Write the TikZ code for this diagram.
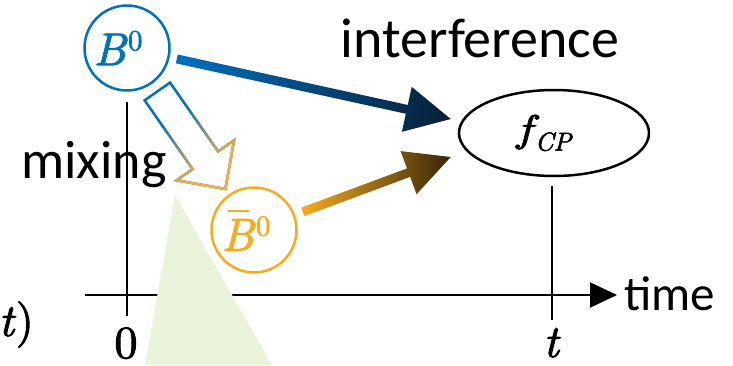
\RequirePackage{fix-cm}
\documentclass[tikz,border=0pt]{standalone}
\usepackage{fontspec}
\newfontfamily\calfont{Carlito}
\newfontfamily\mitf{lmroman10-italic.otf}[FakeBold=2]
\newfontfamily\mupf{lmroman10-regular.otf}[FakeBold=2]
\usetikzlibrary{calc,arrows.meta,shapes.geometric,fadings}
\definecolor{bblue}{RGB}{0,112,192}
\definecolor{bnavy}{RGB}{8,30,52}
\definecolor{borange}{RGB}{247,172,32}
\definecolor{bbrown}{RGB}{55,38,8}
\definecolor{mixorange}{RGB}{245,175,70}
\definecolor{tgreen}{RGB}{233,244,218}
\tikzfading[name=fadeR, left color=transparent!100, right color=transparent!0]
\tikzset{
  mathtxt/.style={font=\fontsize{46}{50}\selectfont},
  circ/.style={circle, draw, line width=2.5pt, minimum size=85pt, inner sep=0pt, mathtxt},
  lbl/.style={font=\calfont, inner sep=0pt},
  axisline/.style={line width=2pt, black},
}
\newcommand\supz{\raisebox{15pt}{\mupf\fontsize{29}{29}\selectfont 0}}
\begin{document}
\begin{tikzpicture}[x=1pt,y=1pt]
\useasboundingbox (0,0) rectangle (733,365);
% nodes
\node[circ, draw=bblue, text=bblue] (B0) at (127,317) {{\mitf B}\kern2pt\supz\kern18pt};
\node[circ, draw=borange, text=borange] (Bb) at (254,135)
  {\makebox[0pt][l]{\hspace{6pt}\rule[38.5pt]{21pt}{2.5pt}}{\mitf B}\kern2pt\supz\kern16pt};
\node[ellipse, draw, line width=2.5pt, minimum width=190pt, minimum height=86pt, inner sep=0pt]
  (f) at (554,232) {\fontsize{38}{38}\selectfont\mitf \scalebox{1.3}[1]{f}\kern3pt\raisebox{-9pt}{\fontsize{26}{26}\selectfont CP}\kern20pt};
% axes
\coordinate (ox0) at (85,70);
\coordinate (ox1) at (617,70);
\coordinate (oy0) at (127,49);
\coordinate (oy1) at (127,263);
\coordinate (tv0) at ($(f.south)+(-2,-9)$);
\coordinate (tv1) at (552,45);
\draw[axisline, -{Triangle[length=27pt,width=25pt]}] (ox0) -- (ox1);
\draw[axisline] (oy0) -- (oy1);
\draw[axisline] (tv0) -- (tv1);
% green triangle
\fill[tgreen] (175,170) -- (145,0) -- (272,0) -- cycle;
% labels
\node[lbl, font=\calfont\fontsize{49}{55}\selectfont, anchor=base west] (time) at (624,55) {time};
\node[lbl, font=\calfont\fontsize{54}{60}\selectfont, anchor=base] (mix) at (94,187) {mixing};
\node[lbl, font=\calfont\fontsize{56}{60}\selectfont, anchor=base] (intf) at (480,308) {interference};
\node[mathtxt, anchor=base, inner sep=0pt] (zero) at (126,7) {\mupf 0};
\node[mathtxt, anchor=base, inner sep=0pt] (tt) at (551,8) {\mitf t};
\node[mathtxt, anchor=base east, inner sep=0pt] (pt) at (34,29) {{\mitf t}\kern2pt{\mupf )}};
% mixing arrow (hollow, gradient outline)
\coordinate (ms) at ($(B0.center)!53pt!(Bb.center)$);
\coordinate (me) at ($(Bb.center)!50pt!(B0.center)$);
\coordinate (mh) at ($(me)!35pt!(ms)$);
\coordinate (mm) at ($(ms)!0.5!(me)$);
\coordinate (ma1) at ($(ms)!15.5pt!90:(me)$);
\coordinate (ma2) at ($(mh)!15.5pt!90:(me)$);
\coordinate (ma3) at ($(mh)!35pt!90:(me)$);
\coordinate (ma5) at ($(mh)!35pt!-90:(me)$);
\coordinate (ma6) at ($(mh)!15.5pt!-90:(me)$);
\coordinate (ma7) at ($(ms)!15.5pt!-90:(me)$);
\draw[bblue, line width=2.5pt] (ma1) -- (ma2) -- (ma3) -- (me) -- (ma5) -- (ma6) -- (ma7) -- cycle;
\draw[mixorange, line width=2.5pt, path fading=fadeR, fit fading=false,
      fading transform={shift={(mm)}, rotate=-55, scale=1.25}]
  (ma1) -- (ma2) -- (ma3) -- (me) -- (ma5) -- (ma6) -- (ma7) -- cycle;
% interference arrows
\coordinate (t1) at ($(f.west)+(-7,14)$);
\coordinate (s1) at ($(B0.center)!51pt!(t1)$);
\coordinate (h1) at ($(t1)!45pt!(s1)$);
\shade[left color=bblue, right color=bnavy]
  ($(s1)!4.5pt!90:(t1)$) -- ($(h1)!4.5pt!90:(t1)$) -- ($(h1)!23pt!90:(t1)$) -- (t1)
  -- ($(h1)!23pt!-90:(t1)$) -- ($(h1)!4.5pt!-90:(t1)$) -- ($(s1)!4.5pt!-90:(t1)$) -- cycle;
\coordinate (t2) at ($(f.west)+(-7,-24)$);
\coordinate (s2) at ($(Bb.center)!52pt!(t2)$);
\coordinate (h2) at ($(t2)!45pt!(s2)$);
\shade[left color=borange, right color=bbrown]
  ($(s2)!4.5pt!90:(t2)$) -- ($(h2)!4.5pt!90:(t2)$) -- ($(h2)!23pt!90:(t2)$) -- (t2)
  -- ($(h2)!23pt!-90:(t2)$) -- ($(h2)!4.5pt!-90:(t2)$) -- ($(s2)!4.5pt!-90:(t2)$) -- cycle;
\end{tikzpicture}
\end{document}
